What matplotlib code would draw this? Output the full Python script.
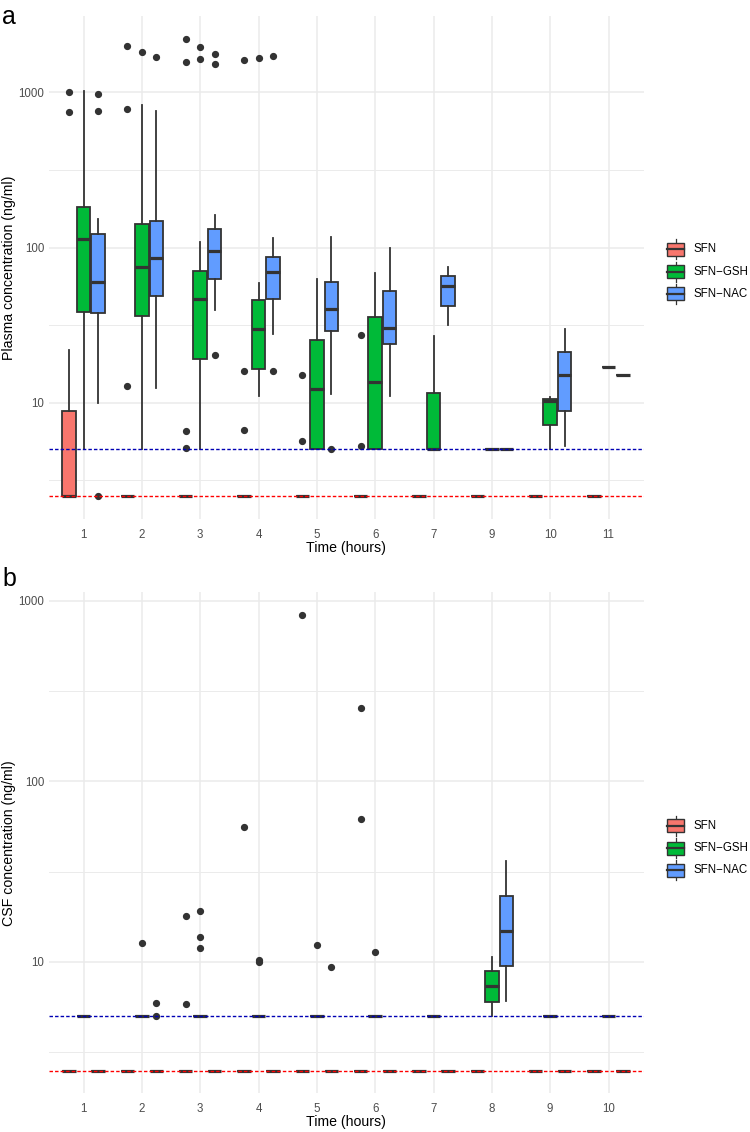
import numpy as np
import matplotlib
matplotlib.use('Agg')
import matplotlib.pyplot as plt
from matplotlib.patches import Rectangle
from matplotlib.ticker import FixedLocator, NullFormatter

plt.rcParams['font.family'] = ['Liberation Sans', 'DejaVu Sans']

groups = ['SFN', 'SFN\u2212GSH', 'SFN\u2212NAC']
colors = ['#F8766D', '#00BA38', '#619CFF']

# ---- panel a : plasma ----
times_a = ['1', '2', '3', '4', '5', '6', '7', '9', '10', '11']

sfn_a_q1 = [2.5, 2.5, 2.5, 2.5, 2.5, 2.5, 2.5, 2.5, 2.5, 2.5]
sfn_a_med = [2.5, 2.5, 2.5, 2.5, 2.5, 2.5, 2.5, 2.5, 2.5, 2.5]
sfn_a_q3 = [8.85, 2.5, 2.5, 2.5, 2.5, 2.5, 2.5, 2.5, 2.5, 2.5]
sfn_a_lo = [2.5, 2.5, 2.5, 2.5, 2.5, 2.5, 2.5, 2.5, 2.5, 2.5]
sfn_a_hi = [21.7, 2.5, 2.5, 2.5, 2.5, 2.5, 2.5, 2.5, 2.5, 2.5]
sfn_a_out = [[1000, 753], [1982, 777, 12.8], [2219, 1571, 6.52, 5.12],
             [1611, 16.1, 6.64], [15.1, 5.64], [27.4, 5.27], [], [], [], []]

gsh_a_q1 = [38.3, 36.2, 19.0, 16.6, 5, 5, 5, 5, 7.23, 17]
gsh_a_med = [114, 75, 46.6, 29.9, 12.2, 13.6, 5, 5, 10.3, 17]
gsh_a_q3 = [184, 142, 70.2, 46.2, 25.4, 35.8, 11.6, 5, 10.6, 17]
gsh_a_lo = [5, 5, 5, 11.1, 5, 5, 5, 5, 5, 17]
gsh_a_hi = [1028, 828, 108.6, 59, 62.8, 69, 26.8, 5, 10.9, 17]
gsh_a_out = [[], [1816], [1955, 1637], [1660], [], [], [], [], [], []]

nac_a_q1 = [38.0, 48.6, 62.8, 46.8, 28.8, 23.9, 42, 5, 8.89, 15]
nac_a_med = [60.3, 85.3, 95, 69.4, 40.4, 30.3, 56.2, 5, 15.1, 15]
nac_a_q3 = [122, 148, 132, 87, 60.2, 52.4, 65.5, 5, 21.2, 15]
nac_a_lo = [10, 12.5, 39.5, 27.9, 11.4, 11.1, 31.6, 5, 5.25, 15]
nac_a_hi = [153, 762, 162, 115, 117, 100, 75.5, 5, 29.7, 15]
nac_a_out = [[977, 759, 2.5], [1693], [1770, 1527, 20.3], [1706, 16.0],
             [5.0], [], [], [], [], []]

# ---- panel b : CSF ----
times_b = ['1', '2', '3', '4', '5', '6', '7', '8', '9', '10']

sfn_b_q1 = [2.5, 2.5, 2.5, 2.5, 2.5, 2.5, 2.5, 2.5, 2.5, 2.5]
sfn_b_med = [2.5, 2.5, 2.5, 2.5, 2.5, 2.5, 2.5, 2.5, 2.5, 2.5]
sfn_b_q3 = [2.5, 2.5, 2.5, 2.5, 2.5, 2.5, 2.5, 2.5, 2.5, 2.5]
sfn_b_lo = [2.5, 2.5, 2.5, 2.5, 2.5, 2.5, 2.5, 2.5, 2.5, 2.5]
sfn_b_hi = [2.5, 2.5, 2.5, 2.5, 2.5, 2.5, 2.5, 2.5, 2.5, 2.5]
sfn_b_out = [[], [], [17.9, 5.85], [55.8], [834], [255, 62.1], [], [], [], []]

gsh_b_q1 = [5, 5, 5, 5, 5, 5, 5, 6.0, 5, 5]
gsh_b_med = [5, 5, 5, 5, 5, 5, 5, 7.31, 5, 5]
gsh_b_q3 = [5, 5, 5, 5, 5, 5, 5, 8.85, 5, 5]
gsh_b_lo = [5, 5, 5, 5, 5, 5, 5, 5, 5, 5]
gsh_b_hi = [5, 5, 5, 5, 5, 5, 5, 10.7, 5, 5]
gsh_b_out = [[], [12.7], [19.1, 13.7, 12.0], [10.2, 10.0], [12.4], [11.35],
             [], [], [], []]

nac_b_q1 = [2.5, 2.5, 2.5, 2.5, 2.5, 2.5, 2.5, 9.46, 2.5, 2.5]
nac_b_med = [2.5, 2.5, 2.5, 2.5, 2.5, 2.5, 2.5, 14.9, 2.5, 2.5]
nac_b_q3 = [2.5, 2.5, 2.5, 2.5, 2.5, 2.5, 2.5, 23.1, 2.5, 2.5]
nac_b_lo = [2.5, 2.5, 2.5, 2.5, 2.5, 2.5, 2.5, 6.05, 2.5, 2.5]
nac_b_hi = [2.5, 2.5, 2.5, 2.5, 2.5, 2.5, 2.5, 36.1, 2.5, 2.5]
nac_b_out = [[], [5.93, 5.0], [], [], [9.39], [], [], [], [], []]

loq_sfn = 2.5
loq_conj = 5

dark = '#333333'


def make_stats(q1, med, q3, lo, hi, out):
    return [dict(q1=a, med=b, q3=c, whislo=d, whishi=e, fliers=np.array(f))
            for a, b, c, d, e, f in zip(q1, med, q3, lo, hi, out)]


def draw_panel(ax, times, series, ylim):
    x = np.arange(1, len(times) + 1)
    for k, (st, col) in enumerate(zip(series, colors)):
        ax.bxp(st, positions=x + (k - 1) * 0.25, widths=0.23,
               patch_artist=True, showcaps=False, manage_ticks=False,
               boxprops=dict(facecolor=col, edgecolor=dark, linewidth=1.3),
               medianprops=dict(color=dark, linewidth=2.3),
               whiskerprops=dict(color=dark, linewidth=1.3),
               flierprops=dict(marker='o', markerfacecolor=dark,
                               markeredgecolor=dark, markersize=4.2))
    ax.axhline(loq_conj, color='#0000B4', lw=1.0, ls=(0, (2.5, 1.5)), zorder=5)
    ax.axhline(loq_sfn, color='#FF0000', lw=1.0, ls=(0, (2.5, 1.5)), zorder=5)
    ax.set_yscale('log')
    ax.set_ylim(*ylim)
    ax.set_xlim(0.4, len(times) + 0.6)
    ax.set_xticks(x)
    ax.set_xticklabels(times)
    ax.yaxis.set_major_locator(FixedLocator([10, 100, 1000]))
    ax.set_yticklabels(['10', '100', '1000'])
    ax.yaxis.set_minor_locator(FixedLocator([10 ** 0.5, 10 ** 1.5, 10 ** 2.5]))
    ax.yaxis.set_minor_formatter(NullFormatter())
    ax.grid(True, which='major', color='#EBEBEB', lw=1.1)
    ax.grid(True, which='minor', axis='y', color='#EBEBEB', lw=0.7)
    ax.set_axisbelow(True)
    for s in ax.spines.values():
        s.set_visible(False)
    ax.tick_params(which='both', length=0, labelsize=8.3, labelcolor='#4D4D4D')
    ax.tick_params(axis='x', pad=7)
    ax.tick_params(axis='y', pad=3)


fig = plt.figure(figsize=(7.5, 11.32), dpi=100)
W, H = 750, 1132

ax_a = fig.add_axes([48.5 / W, 1 - 519 / H, 595 / W, (519 - 15.7) / H])
ax_b = fig.add_axes([48.5 / W, 1 - 1093.3 / H, 595 / W, (1093.3 - 592.3) / H])

series_a = [make_stats(sfn_a_q1, sfn_a_med, sfn_a_q3, sfn_a_lo, sfn_a_hi, sfn_a_out),
            make_stats(gsh_a_q1, gsh_a_med, gsh_a_q3, gsh_a_lo, gsh_a_hi, gsh_a_out),
            make_stats(nac_a_q1, nac_a_med, nac_a_q3, nac_a_lo, nac_a_hi, nac_a_out)]
series_b = [make_stats(sfn_b_q1, sfn_b_med, sfn_b_q3, sfn_b_lo, sfn_b_hi, sfn_b_out),
            make_stats(gsh_b_q1, gsh_b_med, gsh_b_q3, gsh_b_lo, gsh_b_hi, gsh_b_out),
            make_stats(nac_b_q1, nac_b_med, nac_b_q3, nac_b_lo, nac_b_hi, nac_b_out)]

draw_panel(ax_a, times_a, series_a, (10 ** 0.25, 10 ** 3.495))
draw_panel(ax_b, times_b, series_b, (10 ** 0.272, 10 ** 3.046))

# overlay in pixel coords for titles, tags, legends
ov = fig.add_axes([0, 0, 1, 1], facecolor='none')
ov.set_xlim(0, W)
ov.set_ylim(H, 0)
ov.axis('off')

ov.text(2, 24, 'a', fontsize=18, ha='left', va='baseline')
ov.text(2, 586, 'b', fontsize=18, ha='left', va='baseline')
ov.text(346, 548, 'Time (hours)', fontsize=10.2, ha='center', va='center')
ov.text(346, 1122, 'Time (hours)', fontsize=10.2, ha='center', va='center')
ov.text(9, 268, 'Plasma concentration (ng/ml)', fontsize=10.2, rotation=90,
        ha='center', va='center')
ov.text(9, 843, 'CSF concentration (ng/ml)', fontsize=10.2, rotation=90,
        ha='center', va='center')


def legend(y0):
    for i, (g, c) in enumerate(zip(groups, colors)):
        yc = y0 + i * 22.3
        ov.plot([675.5, 675.5], [yc - 10, yc + 10], color=dark, lw=0.9)
        ov.add_patch(Rectangle((667, yc - 6.5), 17, 13, facecolor=c,
                               edgecolor=dark, lw=1.0, zorder=3))
        ov.plot([667, 684], [yc, yc], color=dark, lw=1.6, zorder=4)
        ov.text(694, yc, g, fontsize=8.3, ha='left', va='center')


legend(249.3)
legend(825.7)

fig.savefig('out.png', dpi=100)
